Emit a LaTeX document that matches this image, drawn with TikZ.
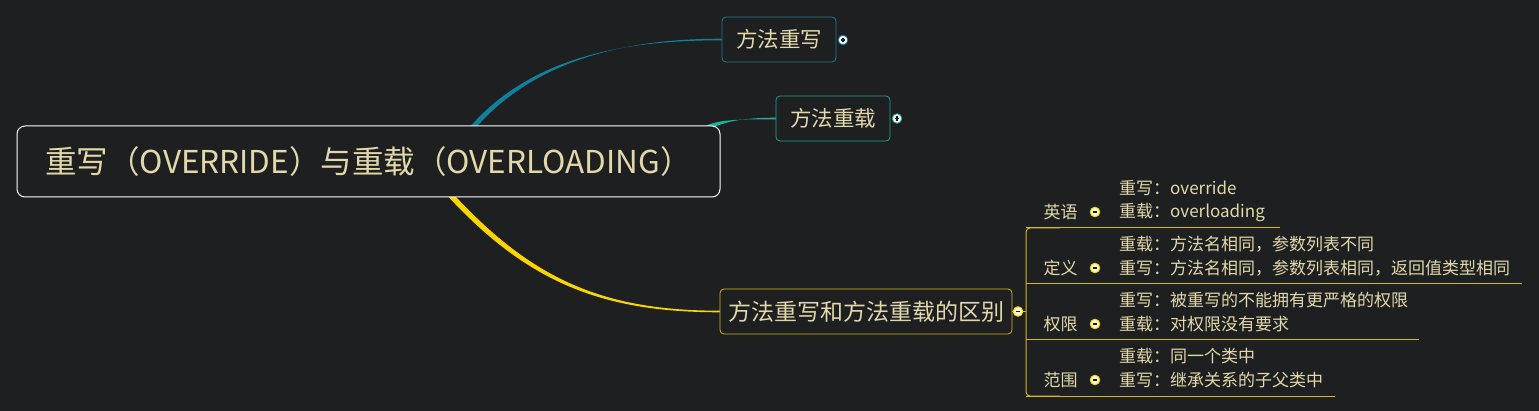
\documentclass[tikz,border=0pt]{standalone}
\usepackage{fontspec}
\setmainfont{Noto Sans CJK SC}
\usepackage{tikz}
\usepackage{xcolor}
\usetikzlibrary{calc}

\definecolor{bgc}{RGB}{30,31,33}
\definecolor{txt}{RGB}{226,216,170}
\definecolor{tealA}{RGB}{18,128,155}
\definecolor{tealAb}{RGB}{30,124,146}
\definecolor{tealB}{RGB}{28,180,152}
\definecolor{tealBb}{RGB}{32,160,138}
\definecolor{yel}{RGB}{250,214,0}
\definecolor{yelb}{RGB}{214,184,28}
\definecolor{dotfill}{RGB}{255,250,220}

% tapered branch: colour, start, control 1, control 2, end, half width at start
\newcommand{\branch}[6]{%
  \fill[#1] ($(#2)+(#6)$) .. controls ($(#3)+(#6)$) and ($(#4)+(0,-0.8)$) .. ($(#5)+(0,-0.8)$)
    -- ($(#5)+(0,0.8)$) .. controls ($(#4)+(0,0.8)$) and ($(#3)-(#6)$) .. ($(#2)-(#6)$) -- cycle;}

\tikzset{
  root/.style={draw=white, fill=bgc, rounded corners=8pt, line width=1pt, text=txt,
    minimum width=703pt, minimum height=71pt, inner sep=0pt, font=\fontsize{31.5}{31.5}\selectfont},
  topic/.style={draw=#1, fill=bgc, rounded corners=4pt, line width=0.8pt, text=txt,
    minimum height=45pt, inner sep=0pt, font=\fontsize{21.5}{21.5}\selectfont},
  plusdot/.style={circle, draw=#1, fill=white, minimum size=9.5pt, inner sep=0pt, line width=0.8pt,
    path picture={\draw[bgc, line width=1.1pt]
      ($(path picture bounding box.center)+(-2.3pt,0)$) -- +(4.6pt,0)
      ($(path picture bounding box.center)+(0,-2.3pt)$) -- +(0,4.6pt);}},
  minusdot/.style={circle, draw=yel, fill=dotfill, minimum size=9.5pt, inner sep=0pt, line width=1pt,
    path picture={\draw[bgc, line width=1.1pt]
      ($(path picture bounding box.center)+(-2.3pt,0)$) -- +(4.6pt,0);}},
  stem/.style={draw=yelb, line width=1pt},
  leaf/.style={text=txt, inner sep=0pt, font=\fontsize{17}{17}\selectfont}
}

\begin{document}
\begin{tikzpicture}[x=1pt, y=-1pt]
  \useasboundingbox (0,0) rectangle (1539,411);
  \fill[bgc] (0,0) rectangle (1539,411);

  % branch ends
  \coordinate (ta) at (459,145);
  \coordinate (tb) at (700,133);
  \coordinate (ty) at (444,188);
  \coordinate (brk) at (1026,311.5);

  \branch{tealA}{ta}{524,53}{637,39.5}{722,39.5}{2,1.5}
  \branch{tealB}{tb}{713,121}{738,118.5}{776,118.5}{2.1,2.1}
  \branch{yel}{ty}{527,280}{600,311.5}{720,311.5}{2,-1.8}

  \node[root] (root) at (368.5,161.5) {重写（OVERRIDE）与重载（OVERLOADING）};
  \node[topic=tealAb, minimum width=114pt] (rewrite) at (779,39.5) {方法重写};
  \node[topic=tealBb, minimum width=114pt] (overload) at (833,118.5) {方法重载};
  \node[topic=yelb, minimum width=292pt, font=\fontsize{23}{23}\selectfont] (diff) at (866,311.5) {方法重写和方法重载的区别};

  \node[plusdot=tealA] (rewrite-dot) at (843,40) {};
  \node[plusdot=tealB] (overload-dot) at (897,118.5) {};

  % bracket of the sub topics
  \draw[stem] (diff.east) -- (brk);
  \draw[stem, rounded corners=4pt] (1060,228) -- (1026,228) -- (1026,396) -- (1060,396);
  \node[minusdot] (diff-dot) at (1018,311.5) {};

  \foreach \lbl/\ta/\tb/\len [count=\i from 0] in {
      英语/重写：override/重载：overloading/1280,
      定义/重载：方法名相同，参数列表不同/重写：方法名相同，参数列表相同，返回值类型相同/1522,
      权限/重写：被重写的不能拥有更严格的权限/重载：对权限没有要求/1419,
      范围/重载：同一个类中/重写：继承关系的子父类中/1335} {
    \node[leaf] (lab\i) at (1060.5,212+56*\i) {\lbl};
    \node[minusdot] (dot\i) at (1095,212+56*\i) {};
    \node[leaf, anchor=west] (up\i) at (1119,188+56*\i) {\ta};
    \node[leaf, anchor=west] (lo\i) at (1119,212+56*\i) {\tb};
    \draw[stem] (1026,228+56*\i) -- (\len,228+56*\i);
  }
\end{tikzpicture}
\end{document}
